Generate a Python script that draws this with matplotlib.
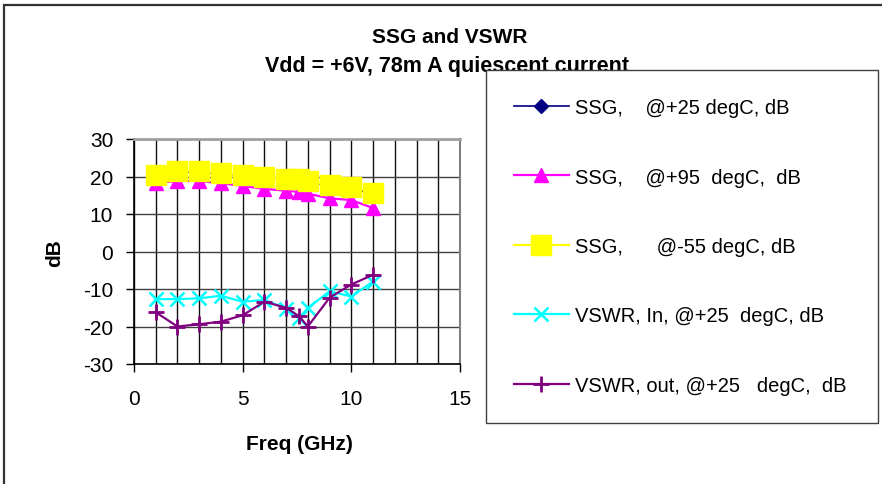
import matplotlib
matplotlib.use('Agg')
import matplotlib.pyplot as plt
from matplotlib.patches import Rectangle
import numpy as np

plt.rcParams['font.family'] = ['Liberation Sans', 'DejaVu Sans']
plt.rcParams['axes.unicode_minus'] = False

# frequencies (GHz)
freq = [1, 2, 3, 4, 5, 6, 7, 7.6, 8, 9, 10, 11]

# small signal gain, dB
ssg_25 = [20.5, 21.2, 21.1, 20.8, 20.3, 19.8, 19.3, 19.0, 18.6, 17.6, 17.0, 15.3]
ssg_95 = [18.3, 18.8, 18.8, 18.2, 17.5, 16.7, 16.2, 15.9, 15.4, 14.2, 13.7, 11.6]
ssg_m55 = [20.4, 21.5, 21.4, 21.0, 20.4, 20.0, 19.4, 19.4, 18.9, 17.8, 17.3, 15.7]

# return loss, dB
vswr_in = [-12.7, -12.7, -12.5, -11.8, -13.4, -12.9, -15.2, -17.8, -15.1, -10.6, -12.0, -8.0]
vswr_out = [-16.2, -20.0, -19.4, -18.7, -17.0, -13.4, -15.0, -17.3, -20.0, -12.3, -8.8, -6.2]

labels = ['SSG,    @+25 degC, dB',
          'SSG,    @+95  degC,  dB',
          'SSG,      @-55 degC, dB',
          'VSWR, In, @+25  degC, dB',
          'VSWR, out, @+25   degC,  dB']

W, H = 882, 485
fig = plt.figure(figsize=(W / 100, H / 100), dpi=100)
ax = fig.add_axes([134 / W, 1 - 365 / H, 326 / W, 225 / H])

ax.plot(freq, ssg_25, color='#000080', lw=1.2, marker='D', ms=7, label=labels[0])
ax.plot(freq, ssg_95, color='#FF00FF', lw=1.6, marker='^', ms=10, label=labels[1])
ax.plot(freq, ssg_m55, color='#FFFF00', lw=1.6, marker='s', ms=14.5, label=labels[2])
ax.plot(freq, vswr_in, color='#00FFFF', lw=1.6, marker='x', ms=10, mew=1.8, label=labels[3])
ax.plot(freq, vswr_out, color='#800080', lw=1.6, marker='+', ms=11, mew=2, label=labels[4])

ax.set_xlim(0, 15)
ax.set_ylim(-30, 30)
ax.set_xticks([0, 5, 10, 15])
ax.set_xticks(np.arange(0, 16, 1), minor=True)
ax.set_yticks(np.arange(-30, 31, 10))
ax.tick_params(axis='both', which='major', direction='out', length=6, width=1,
               labelsize=15, color='black')
ax.tick_params(axis='x', which='major', pad=12)
ax.tick_params(axis='y', which='major', pad=9)
ax.tick_params(axis='x', which='minor', length=0)

ax.grid(True, axis='x', which='both', color='#101010', lw=1)
ax.grid(True, axis='y', which='major', color='#404040', lw=1)
ax.set_axisbelow(True)

ax.spines['left'].set_color('black')
ax.spines['bottom'].set_color('black')
ax.spines['left'].set_linewidth(1.2)
ax.spines['bottom'].set_linewidth(1.2)
ax.spines['top'].set_color('#a0a0a0')
ax.spines['right'].set_color('#808080')
ax.spines['top'].set_linewidth(2)
ax.spines['right'].set_linewidth(1.5)

fig.text(450 / W, 1 - 43 / H, 'SSG and VSWR', ha='center', va='baseline',
         fontsize=15, fontweight='bold')
fig.text(447 / W, 1 - 72 / H, 'Vdd = +6V, 78m A quiescent current', ha='center',
         va='baseline', fontsize=15.5, fontweight='bold')
fig.text(55 / W, 1 - 253 / H, 'dB', rotation=90, ha='center', va='center',
         fontsize=15, fontweight='bold')
fig.text(299 / W, 1 - 445 / H, 'Freq (GHz)', ha='center', va='center',
         fontsize=15, fontweight='bold')

leg = fig.legend(loc='upper left', bbox_to_anchor=(486 / W, 1 - 425 / H, 392 / W, 354 / H),
                 mode='expand', fontsize=14.5, fancybox=False, framealpha=1,
                 edgecolor='#404040', borderpad=1.4, labelspacing=2.5,
                 handlelength=2.7, handletextpad=0.3, borderaxespad=0)
leg.get_frame().set_linewidth(1)

# outer chart border
fig.patches.append(Rectangle((4 / W, -0.05), 1.1, 1 - 6 / H + 0.05, transform=fig.transFigure,
                             fill=False, edgecolor='#333333', lw=1.6))

fig.savefig('out.png', dpi=100)
